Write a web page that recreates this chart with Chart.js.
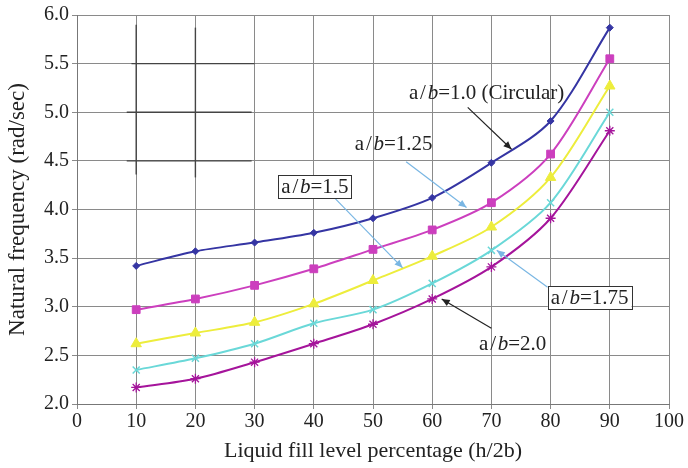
<!DOCTYPE html>
<html><head><meta charset="utf-8">
<script src="https://cdn.jsdelivr.net/npm/chart.js@4/dist/chart.umd.min.js"></script>
<style>html,body{margin:0;padding:0;background:#fff}#wrap{width:688px;height:468px}</style>
</head><body><div id="wrap"><canvas id="c" width="688" height="468"></canvas></div>
<script>
const fillLevels = [10, 20, 30, 40, 50, 60, 70, 80, 90];
const ratio100 = [3.42, 3.57, 3.66, 3.76, 3.91, 4.12, 4.48, 4.91, 5.87];
const ratio125 = [2.97, 3.08, 3.22, 3.39, 3.59, 3.79, 4.07, 4.57, 5.55];
const ratio150 = [2.62, 2.73, 2.84, 3.03, 3.27, 3.52, 3.82, 4.33, 5.27];
const ratio175 = [2.35, 2.47, 2.62, 2.83, 2.97, 3.24, 3.58, 4.07, 5.00];
const ratio200 = [2.17, 2.26, 2.43, 2.62, 2.82, 3.08, 3.41, 3.91, 4.81];
const seriesLabels = ['1.0 (Circular)', '1.25', '1.5', '1.75', '2.0'];
const xTicks = [0, 10, 20, 30, 40, 50, 60, 70, 80, 90, 100];
const yTicks = [2.0, 2.5, 3.0, 3.5, 4.0, 4.5, 5.0, 5.5, 6.0];

const SERIF = '"Liberation Serif", "Times New Roman", serif';
const toPts = ys => fillLevels.map((x, i) => ({x, y: ys[i]}));

// annotation layout (data coordinates)
const notes = [
  {label: seriesLabels[0], box: false, at: [69.2, 5.20], from: [66.0, 5.05], to: [73.4, 4.62], arrow: '#222'},
  {label: seriesLabels[1], box: false, at: [53.5, 4.68], from: [55.6, 4.49], to: [65.8, 4.02], arrow: '#79b6e3'},
  {label: seriesLabels[2], box: true,  at: [40.2, 4.24], from: [43.5, 4.12], to: [55.0, 3.40], arrow: '#79b6e3'},
  {label: seriesLabels[3], box: true,  at: [86.6, 3.10], from: [79.5, 3.20], to: [70.9, 3.58], arrow: '#79b6e3'},
  {label: seriesLabels[4], box: false, at: [73.6, 2.62], from: [70.0, 2.78], to: [61.6, 3.08], arrow: '#222'}
];

function drawArrow(ctx, x1, y1, x2, y2, color) {
  ctx.save();
  ctx.strokeStyle = color; ctx.fillStyle = color; ctx.lineWidth = 1.2;
  ctx.beginPath(); ctx.moveTo(x1, y1); ctx.lineTo(x2, y2); ctx.stroke();
  const a = Math.atan2(y2 - y1, x2 - x1), L = 8, W = 3.5;
  ctx.beginPath();
  ctx.moveTo(x2, y2);
  ctx.lineTo(x2 - L * Math.cos(a) + W * Math.sin(a), y2 - L * Math.sin(a) - W * Math.cos(a));
  ctx.lineTo(x2 - L * Math.cos(a) - W * Math.sin(a), y2 - L * Math.sin(a) + W * Math.cos(a));
  ctx.closePath(); ctx.fill();
  ctx.restore();
}

const annotPlugin = {
  id: 'annot',
  afterDatasetsDraw(chart) {
    const ctx = chart.ctx, xs = chart.scales.x, ys = chart.scales.y;
    const px = v => xs.getPixelForValue(v), py = v => ys.getPixelForValue(v);
    const fs = 21;
    const nF = fs + 'px ' + SERIF, iF = 'italic ' + fs + 'px ' + SERIF;
    notes.forEach(n => {
      drawArrow(ctx, px(n.from[0]), py(n.from[1]), px(n.to[0]), py(n.to[1]), n.arrow);
      const segs = [['a\u200a/\u200a', nF], ['b', iF], ['=' + n.label, nF]];
      ctx.save();
      let w = 0;
      segs.forEach(s => { ctx.font = s[1]; w += ctx.measureText(s[0]).width; });
      const cx = px(n.at[0]), cy = py(n.at[1]);
      if (n.box) {
        ctx.fillStyle = '#fff'; ctx.strokeStyle = '#333'; ctx.lineWidth = 1;
        ctx.fillRect(cx - w / 2 - 3, cy - 11, w + 6, 23);
        ctx.strokeRect(Math.round(cx - w / 2 - 3) + 0.5, Math.round(cy - 11) + 0.5, Math.round(w + 6), 23);
      }
      ctx.fillStyle = '#222'; ctx.textBaseline = 'middle'; ctx.textAlign = 'left';
      let x = cx - w / 2;
      segs.forEach(s => { ctx.font = s[1]; ctx.fillText(s[0], x, cy + 1); x += ctx.measureText(s[0]).width; });
      ctx.restore();
    });
  }
};

// stray dark strokes seen in the top-left of the original figure
const strayPlugin = {
  id: 'stray',
  beforeDatasetsDraw(chart) {
    const ctx = chart.ctx, xs = chart.scales.x, ys = chart.scales.y;
    const px = v => xs.getPixelForValue(v), py = v => ys.getPixelForValue(v);
    ctx.save();
    ctx.strokeStyle = '#444'; ctx.lineWidth = 1.4;
    [[10, 5.9, 10, 4.36], [20, 5.87, 20, 4.33]].forEach(l => {
      ctx.beginPath(); ctx.moveTo(px(l[0]), py(l[1])); ctx.lineTo(px(l[2]), py(l[3])); ctx.stroke();
    });
    [[9.2, 5.5, 30], [8.4, 5.0, 29.5], [8.4, 4.5, 29.5]].forEach(l => {
      ctx.beginPath(); ctx.moveTo(px(l[0]), py(l[1])); ctx.lineTo(px(l[2]), py(l[1])); ctx.stroke();
    });
    ctx.restore();
  }
};

const mk = (data, color, style, radius, bw) => ({
  data: toPts(data), borderColor: color, backgroundColor: color,
  pointStyle: style, pointRadius: radius, pointBorderWidth: bw, pointBorderColor: color,
  borderWidth: 2, tension: 0.3, fill: false
});

new Chart(document.getElementById('c'), {
  type: 'line',
  data: {
    datasets: [
      mk(ratio100, '#3535a3', 'rectRot', 3.5, 1),
      mk(ratio125, '#cc3fbe', 'rect', 5.5, 1),
      mk(ratio150, '#eded3c', 'triangle', 6, 1),
      mk(ratio175, '#6ad8d8', 'crossRot', 5, 1.5),
      mk(ratio200, '#a5149b', 'star', 5, 1.3)
    ]
  },
  options: {
    responsive: false, animation: false,
    layout: {padding: {top: 15, right: 19, left: 0, bottom: 0}},
    plugins: {legend: {display: false}, tooltip: {enabled: false}},
    scales: {
      x: {
        type: 'linear', min: 0, max: 100,
        afterBuildTicks: s => { s.ticks = xTicks.map(v => ({value: v})); },
        afterFit: s => { s.height = 64; },
        grid: {color: '#8a8a8a', lineWidth: 1, tickLength: 5, drawTicks: true},
        border: {color: '#777', width: 1},
        ticks: {color: '#222', font: {family: SERIF, size: 20}, padding: 1, maxRotation: 0},
        title: {display: true, text: 'Liquid fill level percentage (h/2b)', color: '#222', font: {family: SERIF, size: 22}, padding: {top: 0}}
      },
      y: {
        type: 'linear', min: 2, max: 6,
        afterBuildTicks: s => { s.ticks = yTicks.map(v => ({value: v})); },
        afterFit: s => { s.width = 77; },
        grid: {color: '#8a8a8a', lineWidth: 1, tickLength: 5},
        border: {color: '#777', width: 1},
        ticks: {color: '#222', font: {family: SERIF, size: 20}, padding: 3, callback: v => v.toFixed(1)},
        title: {display: true, text: 'Natural frequency (rad/sec)', color: '#222', font: {family: SERIF, size: 23}, padding: {bottom: 0}}
      }
    }
  },
  plugins: [strayPlugin, annotPlugin]
});
</script>
</body></html>
